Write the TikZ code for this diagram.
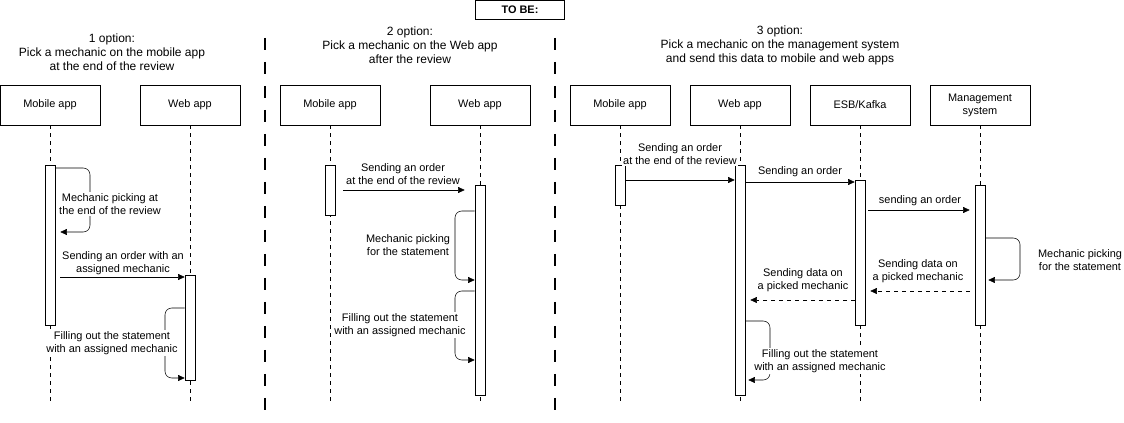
\documentclass[tikz,border=0pt]{standalone}
\usepackage{fontspec}
\setmainfont{Liberation Sans}
\usetikzlibrary{arrows.meta,calc}
\begin{document}
\begin{tikzpicture}[x=0.75pt,y=-0.75pt,
  font=\fontsize{8.2}{9.8}\selectfont,
  part/.style={draw,thin,minimum width=75pt,minimum height=30pt,align=center},
  act/.style={draw,thin,fill=white,minimum width=7.5pt,inner sep=0pt},
  life/.style={dashed,thin},
  msg/.style={-{Triangle[length=5pt,width=4.5pt]},thin},
  reply/.style={msg,dashed},
  loop/.style={msg,rounded corners=5pt},
  lbl/.style={align=center,fill=white,inner sep=1pt},
  head/.style={align=center,font=\fontsize{9}{10.5}\selectfont},
  sep/.style={line width=2pt,dash pattern=on 9pt off 9pt}]

  \useasboundingbox (0,0) rectangle (1124,423);

  % header
  \node[draw,thin,font=\fontsize{8.2}{9.8}\selectfont\bfseries,minimum width=67pt,minimum height=14pt] (tobe) at (520,10){TO BE:};
  \coordinate (s1a) at (265,38); \coordinate (s1b) at (265,420);
  \coordinate (s2a) at (555,38); \coordinate (s2b) at (555,420);
  \draw[sep] (s1a) -- (s1b);
  \draw[sep] (s2a) -- (s2b);
  \node[head] (h1) at (112,52){1 option:\\Pick a mechanic on the mobile app\\at the end of the review};
  \node[head] (h2) at (410,45){2 option:\\Pick a mechanic on the Web app\\after the review};
  \node[head] (h3) at (780,45){3 option:\\Pick a mechanic on the management system\\and send this data to mobile and web apps};

  % participants and lifelines
  \foreach \n/\x/\t in {mob1/50/Mobile app,web1/190/Web app,mob2/330/Mobile app,web2/480/Web app,
      mob3/620/Mobile app,web3/740/Web app,esb/860/{ESB/Kafka},mgm/980/Management\\system}{
    \node[part] (\n) at (\x,105){\t};
    \coordinate (\n-end) at (\x,405);
    \draw[life] (\n) -- (\n-end);
  }

  % activations
  \node[act,minimum height=120pt] (a-mob1) at (50,245){};
  \node[act,minimum height=78.75pt] (a-web1) at (190,327.5){};
  \node[act,minimum height=37.5pt] (a-mob2) at (330,190){};
  \node[act,minimum height=157.5pt] (a-web2) at (480,290){};
  \node[act,minimum height=30pt] (a-mob3) at (620,185){};
  \node[act,minimum height=172.5pt] (a-web3) at (740,280){};
  \node[act,minimum height=108.75pt] (a-esb) at (860,252.5){};
  \node[act,minimum height=105pt] (a-mgm) at (980,255){};

  % option 1
  \draw[loop] (a-mob1.east |- 0,168) -- (90,168) -- (90,232) -- ($(a-mob1.east |- 0,232)+(5,0)$);
  \node[lbl] (l1) at (110,204){Mechanic picking at\\the end of the review};
  \draw[msg] ($(a-mob1.east |- 0,277)+(5,0)$) -- (a-web1.west |- 0,277);
  \node (l2) at (123,263)[align=center]{Sending an order with an\\assigned mechanic};
  \draw[loop] (a-web1.west |- 0,308) -- (165,308) -- (165,378) -- (a-web1.west |- 0,378);
  \node[lbl] (l3) at (112,343){Filling out the statement\\with an assigned mechanic};

  % option 2
  \draw[msg] ($(a-mob2.east |- 0,190)+(8,0)$) -- ($(a-web2.west |- 0,190)+(-10,0)$);
  \node[align=center] (l4) at (403,174){Sending an order\\at the end of the review};
  \draw[loop] (a-web2.west |- 0,211) -- (455,211) -- (455,280) -- (a-web2.west |- 0,280);
  \node[lbl] (l5) at (408,245){Mechanic picking\\for the statement};
  \draw[loop] (a-web2.west |- 0,291) -- (455,291) -- (455,360) -- (a-web2.west |- 0,360);
  \node[lbl] (l6) at (400,325){Filling out the statement\\with an assigned mechanic};

  % option 3
  \draw[msg] (a-mob3.east |- 0,180) -- (a-web3.west |- 0,180);
  \node[lbl] (l7) at (680,154){Sending an order\\at the end of the review};
  \draw[msg] (a-web3.east |- 0,182) -- (a-esb.west |- 0,182);
  \node (l8) at (800,172){Sending an order};
  \draw[msg] ($(a-esb.east |- 0,210)+(3,0)$) -- ($(a-mgm.west |- 0,210)+(-5,0)$);
  \node (l9) at (920,201){sending an order};
  \draw[loop] (a-mgm.east |- 0,238) -- (1020,238) -- (1020,280) -- ($(a-mgm.east |- 0,280)+(3,0)$);
  \node[align=center] (l10) at (1080,260){Mechanic picking\\for the statement};
  \draw[reply] ($(a-mgm.west |- 0,291)+(-5,0)$) -- ($(a-esb.east |- 0,291)+(5,0)$);
  \node[align=center] (l11) at (918,271){Sending data on\\a picked mechanic};
  \draw[reply] (a-esb.west |- 0,300) -- ($(a-web3.east |- 0,300)+(5,0)$);
  \node[align=center] (l12) at (803,280){Sending data on\\a picked mechanic};
  \draw[loop] (a-web3.east |- 0,321) -- (770,321) -- (770,380) -- ($(a-web3.east |- 0,380)+(3,0)$);
  \node[lbl] (l13) at (820,361){Filling out the statement\\with an assigned mechanic};
\end{tikzpicture}
\end{document}
